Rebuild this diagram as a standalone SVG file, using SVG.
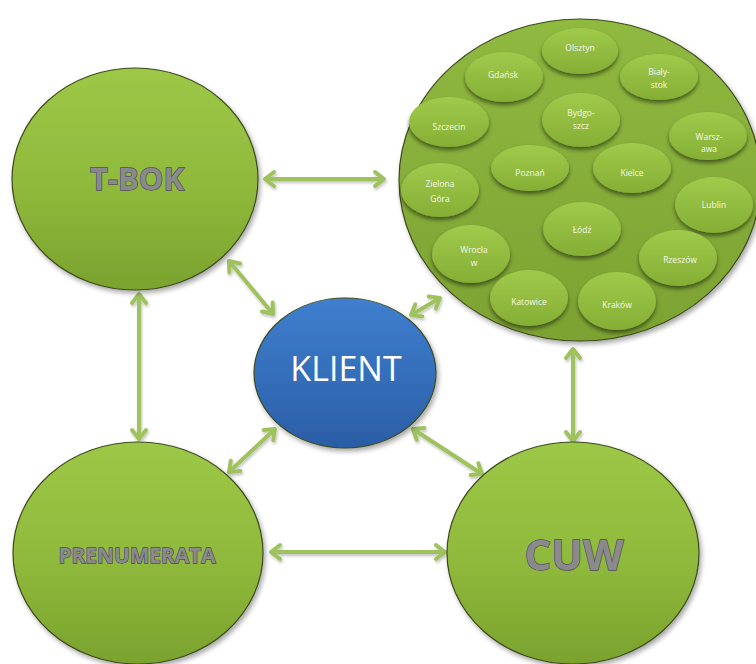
<svg xmlns="http://www.w3.org/2000/svg" width="756" height="664" viewBox="0 0 756 664">
  <defs>
    <linearGradient id="gGreen" x1="0" y1="0" x2="0" y2="1">
      <stop offset="0" stop-color="#9dc746"/>
      <stop offset="0.55" stop-color="#8fb93b"/>
      <stop offset="1" stop-color="#7aa22e"/>
    </linearGradient>
    <linearGradient id="gBig" x1="0" y1="0" x2="0" y2="1">
      <stop offset="0" stop-color="#90b940"/>
      <stop offset="1" stop-color="#7ca232"/>
    </linearGradient>
    <linearGradient id="gCity" x1="0" y1="0" x2="0" y2="1">
      <stop offset="0" stop-color="#a0ca4b"/>
      <stop offset="1" stop-color="#85ae35"/>
    </linearGradient>
    <linearGradient id="gBlue" x1="0" y1="0" x2="0" y2="1">
      <stop offset="0" stop-color="#3f7fcf"/>
      <stop offset="1" stop-color="#2b5ea6"/>
    </linearGradient>
    <filter id="shadow" x="-10%" y="-10%" width="125%" height="125%">
      <feGaussianBlur in="SourceAlpha" stdDeviation="2.5"/>
      <feOffset dx="2" dy="3" result="b"/>
      <feComponentTransfer><feFuncA type="linear" slope="0.35"/></feComponentTransfer>
      <feMerge><feMergeNode/><feMergeNode in="SourceGraphic"/></feMerge>
    </filter>
    <filter id="cityShadow" x="-20%" y="-20%" width="140%" height="150%">
      <feGaussianBlur in="SourceAlpha" stdDeviation="2"/>
      <feOffset dx="0" dy="3" result="b"/>
      <feComponentTransfer><feFuncA type="linear" slope="0.5"/></feComponentTransfer>
      <feMerge><feMergeNode/><feMergeNode in="SourceGraphic"/></feMerge>
    </filter>
    <filter id="arrowShadow" x="-20%" y="-20%" width="140%" height="140%">
      <feGaussianBlur in="SourceAlpha" stdDeviation="1.5"/>
      <feOffset dx="1" dy="2"/>
      <feComponentTransfer><feFuncA type="linear" slope="0.25"/></feComponentTransfer>
      <feMerge><feMergeNode/><feMergeNode in="SourceGraphic"/></feMerge>
    </filter>
    <marker id="head" markerUnits="userSpaceOnUse" viewBox="-14 -12 20 24" markerWidth="20" markerHeight="24" refX="0" refY="0" orient="auto-start-reverse">
      <path d="M-9,-7 L0,0 L-9,7" fill="none" stroke="#9fc25e" stroke-width="4" stroke-linecap="round" stroke-linejoin="round"/>
    </marker>
  </defs>
  <style>
    .node { stroke: #3d4a1c; stroke-width: 1.2; }
    .city { fill: url(#gCity); }
    .cityText { font-family: "Open Sans", "DejaVu Sans", sans-serif; font-size: 8.5px; fill: #f4f8ea; text-anchor: middle; }
    .big { font-family: "Open Sans", "DejaVu Sans", sans-serif; font-weight: bold; fill: #8a8a8a; stroke: #504a66; stroke-width: 1.3; text-anchor: middle; paint-order: stroke; }
    .conn line { stroke: #9fc25e; stroke-width: 4; marker-start: url(#head); marker-end: url(#head); }
  </style>

  <!-- connectors -->
  <g id="connectors" class="conn" filter="url(#arrowShadow)">
    <line x1="265" y1="179" x2="384" y2="179"/>
    <line x1="229" y1="261" x2="273" y2="314"/>
    <line x1="139" y1="294" x2="139" y2="439"/>
    <line x1="440" y1="298" x2="411" y2="315"/>
    <line x1="573" y1="349" x2="573" y2="441"/>
    <line x1="275" y1="429" x2="229" y2="472"/>
    <line x1="413" y1="429" x2="482" y2="474"/>
    <line x1="271" y1="552" x2="445" y2="552"/>
  </g>

  <!-- T-BOK -->
  <g id="tbok">
    <ellipse class="node" cx="135" cy="179" rx="123" ry="111" fill="url(#gGreen)" filter="url(#shadow)"/>
    <text class="big" x="137" y="190" font-size="31">T-BOK</text>
  </g>

  <!-- regional branches -->
  <g id="oddzialy">
    <ellipse class="node" cx="580" cy="180" rx="181" ry="161" fill="url(#gBig)" filter="url(#shadow)"/>
    <g filter="url(#cityShadow)">
      <ellipse class="city" cx="580" cy="51" rx="38" ry="23"/>
      <ellipse class="city" cx="504" cy="77" rx="39" ry="25"/>
      <ellipse class="city" cx="659" cy="77" rx="39" ry="23"/>
      <ellipse class="city" cx="449" cy="122" rx="40" ry="25"/>
      <ellipse class="city" cx="581" cy="120" rx="39" ry="27"/>
      <ellipse class="city" cx="708" cy="136" rx="39" ry="24"/>
      <ellipse class="city" cx="530" cy="168" rx="39" ry="23"/>
      <ellipse class="city" cx="632" cy="168" rx="39" ry="25"/>
      <ellipse class="city" cx="440" cy="190" rx="39" ry="27"/>
      <ellipse class="city" cx="714" cy="205" rx="39" ry="28"/>
      <ellipse class="city" cx="582" cy="229" rx="39" ry="27"/>
      <ellipse class="city" cx="471" cy="254" rx="39" ry="29"/>
      <ellipse class="city" cx="678" cy="258" rx="39" ry="28"/>
      <ellipse class="city" cx="529" cy="298" rx="39" ry="28"/>
      <ellipse class="city" cx="617" cy="301" rx="39" ry="29"/>
    </g>
    <text class="cityText" x="580" y="51">Olsztyn</text>
    <text class="cityText" x="503" y="78">Gdańsk</text>
    <text class="cityText" x="659" y="75">Biały-</text>
    <text class="cityText" x="659" y="88">stok</text>
    <text class="cityText" x="449" y="130">Szczecin</text>
    <text class="cityText" x="581" y="116">Bydgo-</text>
    <text class="cityText" x="581" y="129">szcz</text>
    <text class="cityText" x="709" y="140">Warsz-</text>
    <text class="cityText" x="709" y="152">awa</text>
    <text class="cityText" x="530" y="176">Poznań</text>
    <text class="cityText" x="632" y="176">Kielce</text>
    <text class="cityText" x="440" y="187" font-size="10">Zielona</text>
    <text class="cityText" x="440" y="202" font-size="10">Góra</text>
    <text class="cityText" x="714" y="208">Lublin</text>
    <text class="cityText" x="582" y="233">Łódź</text>
    <text class="cityText" x="474" y="253">Wrocła</text>
    <text class="cityText" x="474" y="266">w</text>
    <text class="cityText" x="680" y="263">Rzeszów</text>
    <text class="cityText" x="529" y="305" font-size="8">Katowice</text>
    <text class="cityText" x="617" y="308">Kraków</text>
  </g>

  <!-- KLIENT -->
  <g id="klient">
    <ellipse class="node" cx="345" cy="373" rx="91" ry="75" fill="url(#gBlue)" stroke="#1e3a66" filter="url(#shadow)"/>
    <text x="346" y="381" font-family="'Open Sans', 'DejaVu Sans', sans-serif" font-size="34" fill="#ffffff" text-anchor="middle">KLIENT</text>
  </g>

  <!-- PRENUMERATA -->
  <g id="prenumerata">
    <ellipse class="node" cx="138" cy="553" rx="125" ry="111" fill="url(#gGreen)" filter="url(#shadow)"/>
    <text class="big" x="137" y="563" font-size="21" textLength="157" lengthAdjust="spacingAndGlyphs">PRENUMERATA</text>
  </g>

  <!-- CUW -->
  <g id="cuw">
    <ellipse class="node" cx="573" cy="553" rx="126" ry="111" fill="url(#gGreen)" filter="url(#shadow)"/>
    <text class="big" x="574" y="570" font-size="42" font-weight="600" fill="#7e7e7e" stroke="#4e4e58" stroke-width="1.5">CUW</text>
  </g>
</svg>
